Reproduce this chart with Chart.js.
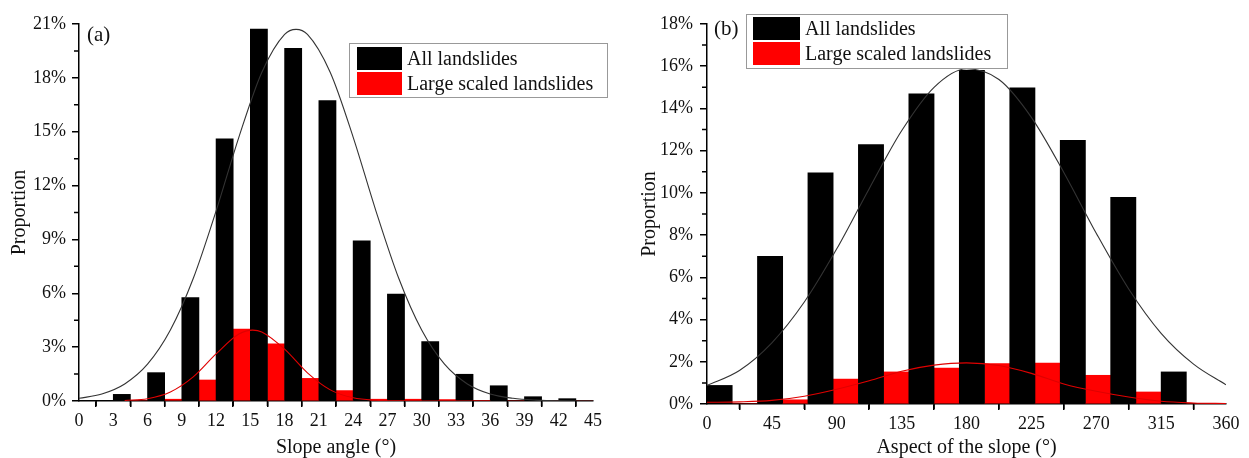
<!DOCTYPE html>
<html>
<head>
<meta charset="utf-8">
<script src="https://cdn.jsdelivr.net/npm/chart.js@4.4.1/dist/chart.umd.min.js"></script>
<style>
  body { margin: 0; background: #fff; }
  canvas { position: absolute; top: 0; }
  #slopeChart { left: 0; }
  #aspectChart { left: 622px; }
</style>
</head>
<body>
<canvas id="slopeChart" width="622" height="458"></canvas>
<canvas id="aspectChart" width="627" height="458"></canvas>
<script>
// (a) slope angle, 3 degree bins (bin centres)
const slopeBins = [4.5, 7.5, 10.5, 13.5, 16.5, 19.5, 22.5, 25.5, 28.5, 31.5, 34.5, 37.5, 40.5, 43.5];
const slopeAll = [0.37, 1.58, 5.76, 14.6, 20.72, 19.64, 16.74, 8.92, 5.95, 3.31, 1.49, 0.85, 0.24, 0.13];
const slopeLarge = [0, 0.1, 1.17, 4.0, 3.19, 1.26, 0.58, 0.1, 0.1, 0.08, 0, 0, 0, 0];
const slopeTicks = [0, 3, 6, 9, 12, 15, 18, 21, 24, 27, 30, 33, 36, 39, 42, 45];
const slopeYTicks = [0, 3, 6, 9, 12, 15, 18, 21];
// fitted curves
const slopeFitX = [0, 2, 4, 6, 8, 10, 12, 14, 16, 18, 19, 20, 22, 24, 26, 28, 30, 32, 34, 36, 38, 40, 42, 45];
const slopeFitAll = [0.15, 0.39, 0.95, 2.05, 3.95, 6.82, 10.58, 14.7, 18.3, 20.42, 20.7, 20.42, 18.3, 14.7, 10.58, 6.82, 3.95, 2.05, 0.95, 0.39, 0.15, 0.05, 0.01, 0];
const slopeFitLargeX = [4, 6, 8, 10, 12, 14, 15.2, 16, 18, 20, 22, 24, 26, 28, 30, 33, 36];
const slopeFitLarge = [0.03, 0.13, 0.5, 1.34, 2.62, 3.73, 3.95, 3.85, 2.89, 1.57, 0.62, 0.18, 0.04, 0.01, 0, 0, 0];

// (b) aspect, 35 degree bins (bin centres)
const aspectBins = [17.5, 52.5, 87.5, 122.5, 157.5, 192.5, 227.5, 262.5, 297.5, 332.5];
const aspectAll = [0.88, 7.0, 10.95, 12.29, 14.69, 15.81, 14.98, 12.49, 9.79, 1.52];
const aspectLarge = [0, 0.2, 1.18, 1.52, 1.7, 1.91, 1.94, 1.36, 0.57, 0];
const aspectTicks = [0, 45, 90, 135, 180, 225, 270, 315, 360];
const aspectYTicks = [0, 2, 4, 6, 8, 10, 12, 14, 16, 18];
const aspectFitX = [0, 22.5, 45, 67.5, 90, 112.5, 135, 157.5, 180, 202.5, 225, 247.5, 270, 292.5, 315, 337.5, 360];
const aspectFitAll = [0.88, 1.59, 2.9, 4.83, 7.35, 10.2, 12.94, 15.0, 15.88, 15.37, 13.58, 10.97, 8.09, 5.45, 3.35, 1.89, 0.91];
const aspectFitLarge = [0.08, 0.1, 0.17, 0.37, 0.7, 1.1, 1.55, 1.84, 1.95, 1.82, 1.45, 0.95, 0.6, 0.33, 0.13, 0.05, 0.02];

const serif = '"Liberation Serif", "Times New Roman", serif';
const ink = '#111';

const pts = (xs, ys) => xs.map((x, i) => ({ x: x, y: ys[i] }));

// small ticks half way between the labelled ones
const minorTicks = {
  id: 'minorTicks',
  afterDraw(chart) {
    const { ctx, scales: { x, y } } = chart;
    ctx.save();
    ctx.strokeStyle = '#000';
    ctx.lineWidth = 1.5;
    ctx.beginPath();
    for (let i = 1; i < x.ticks.length; i++) {
      const px = x.getPixelForValue((x.ticks[i - 1].value + x.ticks[i].value) / 2);
      ctx.moveTo(px, y.bottom);
      ctx.lineTo(px, y.bottom + 5);
    }
    for (let i = 1; i < y.ticks.length; i++) {
      const py = y.getPixelForValue((y.ticks[i - 1].value + y.ticks[i].value) / 2);
      ctx.moveTo(x.left, py);
      ctx.lineTo(x.left - 5, py);
    }
    ctx.stroke();
    ctx.restore();
  }
};

// framed legend inside the plot + panel tag
const boxLegend = {
  id: 'boxLegend',
  afterDraw(chart, args, o) {
    const ctx = chart.ctx;
    const bars = chart.data.datasets.filter(d => d.type === 'bar');
    ctx.save();
    ctx.fillStyle = '#fff';
    ctx.fillRect(o.x, o.y, o.w, o.h);
    ctx.strokeStyle = '#999';
    ctx.lineWidth = 1;
    ctx.strokeRect(o.x + 0.5, o.y + 0.5, o.w, o.h);
    ctx.font = '20px ' + serif;
    ctx.textBaseline = 'middle';
    ctx.textAlign = 'left';
    bars.forEach((d, i) => {
      const top = o.y + o.padY + i * o.row;
      ctx.fillStyle = d.backgroundColor;
      ctx.fillRect(o.x + o.padX, top, o.sw, o.sh);
      ctx.fillStyle = ink;
      ctx.fillText(d.label, o.x + o.padX + o.sw + 5, top + o.sh / 2 + 1);
    });
    ctx.font = '21px ' + serif;
    ctx.fillText(o.tag, o.tagX, o.tagY);
    ctx.restore();
  }
};

function makePanel(id, p) {
  return new Chart(document.getElementById(id), {
    type: 'bar',
    data: {
      datasets: [
        { type: 'line', data: pts(p.fitX, p.fitAll), borderColor: '#333', borderWidth: 1.1,
          pointRadius: 0, cubicInterpolationMode: 'monotone', fill: false, order: 0 },
        { type: 'line', data: pts(p.fitLargeX, p.fitLarge), borderColor: '#e00000', borderWidth: 1.1,
          pointRadius: 0, cubicInterpolationMode: 'monotone', fill: false, order: 0 },
        { type: 'bar', label: 'All landslides', data: pts(p.bins, p.all), backgroundColor: '#000',
          borderWidth: 0, categoryPercentage: 1, barPercentage: 1, order: 1 },
        { type: 'bar', label: 'Large scaled landslides', data: pts(p.bins, p.large), backgroundColor: '#ff0000',
          borderWidth: 0, categoryPercentage: 1, barPercentage: 1, order: 1 }
      ]
    },
    options: {
      responsive: false,
      animation: false,
      layout: { padding: p.padding },
      plugins: {
        legend: { display: false },
        tooltip: { enabled: false },
        boxLegend: p.legend
      },
      scales: {
        x: {
          type: 'linear',
          offset: false,
          min: p.xTicks[0],
          max: p.xTicks[p.xTicks.length - 1],
          afterBuildTicks: s => { s.ticks = p.xTicks.map(v => ({ value: v })); },
          afterFit: s => { s.height = p.xHeight; s.paddingLeft = 0; s.paddingRight = 0; },
          grid: { drawOnChartArea: false, color: '#000', lineWidth: 1.5, tickLength: 6 },
          border: { color: '#000', width: 1.5 },
          ticks: { color: ink, font: { family: serif, size: 18 }, padding: 3, maxRotation: 0, autoSkip: false },
          title: { display: true, text: p.xTitle, color: ink, font: { family: serif, size: 20, lineHeight: 1 }, padding: 0 }
        },
        y: {
          min: p.yTicks[0],
          max: p.yTicks[p.yTicks.length - 1],
          afterBuildTicks: s => { s.ticks = p.yTicks.map(v => ({ value: v })); },
          afterFit: s => { s.width = p.yWidth; s.paddingTop = 0; s.paddingBottom = 0; },
          grid: { drawOnChartArea: false, color: '#000', lineWidth: 1.5, tickLength: 7 },
          border: { color: '#000', width: 1.5 },
          ticks: { color: ink, font: { family: serif, size: 18 }, padding: p.yPad, callback: v => v + '%' },
          title: { display: true, text: 'Proportion', color: ink, font: { family: serif, size: 20, lineHeight: 1 },
                   padding: { top: p.yTitlePad, bottom: 0 } }
        }
      }
    },
    plugins: [minorTicks, boxLegend]
  });
}

makePanel('slopeChart', {
  bins: slopeBins, all: slopeAll, large: slopeLarge,
  fitX: slopeFitX, fitAll: slopeFitAll, fitLargeX: slopeFitLargeX, fitLarge: slopeFitLarge,
  xTicks: slopeTicks, yTicks: slopeYTicks, xTitle: 'Slope angle (°)',
  padding: { left: 0, top: 24, right: 29, bottom: 0 },
  xHeight: 57, yWidth: 79, yPad: 6, yTitlePad: 10,
  legend: { x: 349, y: 43, w: 258, h: 54, padX: 8, padY: 4, sw: 45, sh: 23, row: 25,
            tag: '(a)', tagX: 87, tagY: 35 }
});

makePanel('aspectChart', {
  bins: aspectBins, all: aspectAll, large: aspectLarge,
  fitX: aspectFitX, fitAll: aspectFitAll, fitLargeX: aspectFitX, fitLarge: aspectFitLarge,
  xTicks: aspectTicks, yTicks: aspectYTicks, xTitle: 'Aspect of the slope (°)',
  padding: { left: 0, top: 24, right: 23, bottom: 0 },
  xHeight: 54, yWidth: 85, yPad: 7, yTitlePad: 18,
  legend: { x: 124, y: 14, w: 261, h: 54, padX: 7, padY: 3, sw: 47, sh: 23, row: 25,
            tag: '(b)', tagX: 92, tagY: 29 }
});
</script>
</body>
</html>
